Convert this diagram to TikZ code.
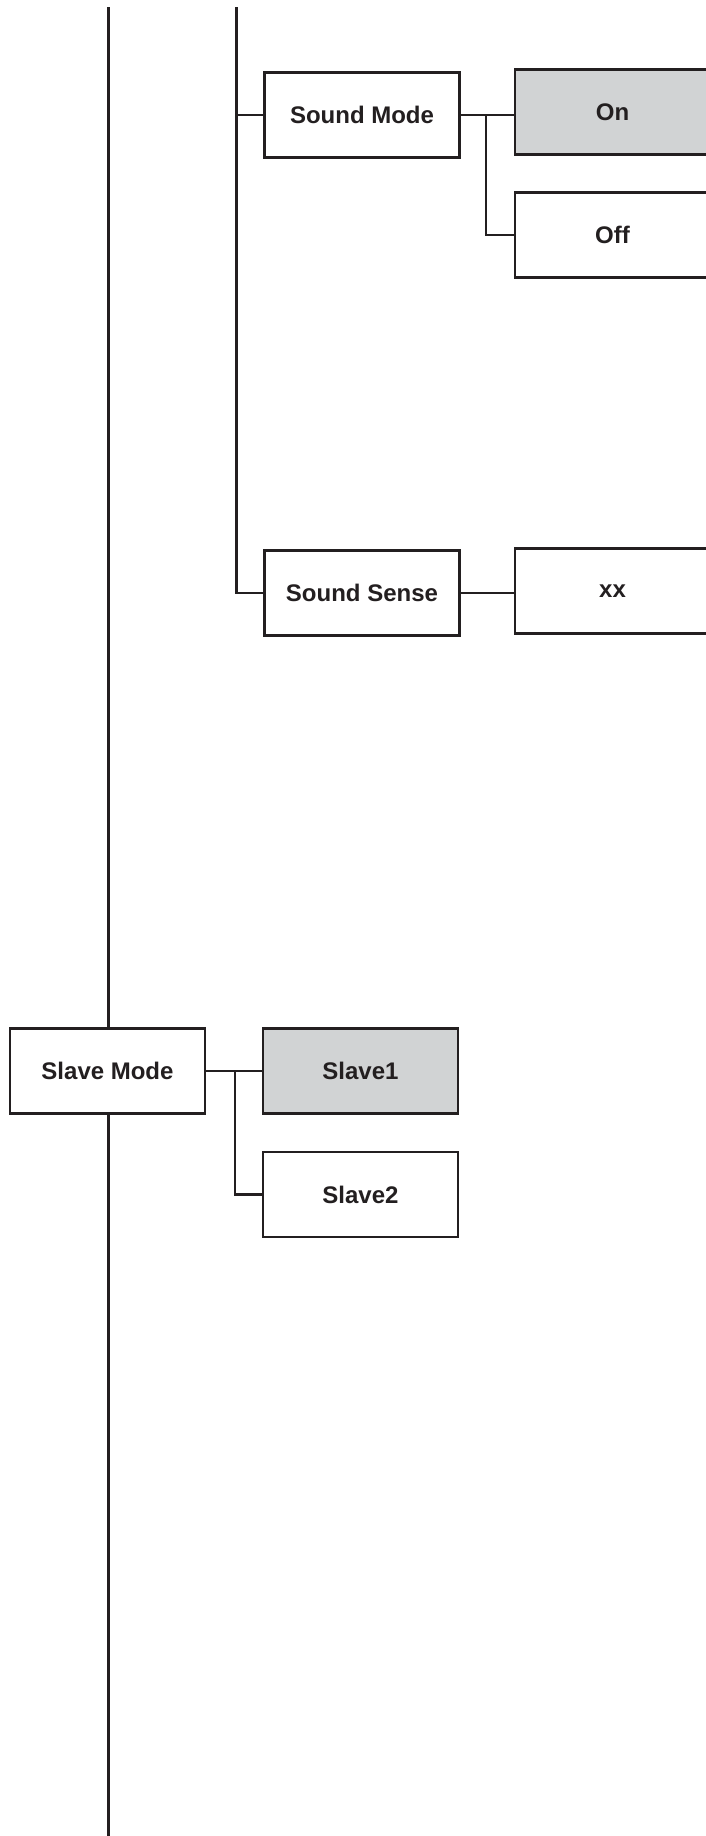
\documentclass[tikz,border=0pt]{standalone}
\usepackage{fontspec}
\setmainfont{Liberation Sans}
\usepackage{tikz}
\usetikzlibrary{calc,positioning}
\usepackage{xcolor}
\definecolor{menuink}{RGB}{35,31,32}
\definecolor{menugray}{RGB}{209,211,212}

\begin{document}
\begin{tikzpicture}[x=0.5pt,y=-0.5pt,
  item/.style={draw=menuink,fill=white,line width=1.2pt,align=center,
              minimum width=97.5pt,minimum height=42.5pt,inner sep=0pt,
              text=menuink,font=\bfseries\fontsize{12}{14}\selectfont},
  chosen/.style={item,fill=menugray},
  wire/.style={draw=menuink,line width=1.25pt}]
  \useasboundingbox (0,0) rectangle (706,1836);
  \begin{scope}
  \clip (0,0) rectangle (706,1836);
  \node[item](sndmode) at (362,115) {Sound Mode};
  \node[chosen](on) at (612.5,112) {On};
  \node[item](off) at (612.5,235) {Off};
  \node[item](sndsense) at (362,593) {Sound Sense};
  \node[item](xx) at (612.5,591) {xx};
  \node[item](slmode) at (107.5,1071) {Slave Mode};
  \node[chosen](slave1) at (360.5,1071) {Slave1};
  \node[item](slave2) at (360.5,1194.5) {Slave2};
  \coordinate (top1) at (108.5,7);
  \coordinate (top2) at (236.5,7);
  \coordinate (bot1) at (108.5,1836);
  \coordinate (br1) at (486,0);
  \coordinate (br2) at (235,0);
  % main trunk
  \draw[wire](top1)--(top1 |- slmode.north);
  \draw[wire](slmode.south -| top1)--(bot1);
  % sound branch
  \draw[wire](top2)--(top2 |- sndsense.west)--(sndsense.west);
  \draw[wire](top2 |- sndmode.west)--(sndmode.west);
  \draw[wire](sndmode.east)--(sndmode.east -| on.west);
  \draw[wire](br1 |- sndmode.east)--(br1 |- off.west)--(off.west);
  \draw[wire](sndsense.east)--(sndsense.east -| xx.west);
  % slave branch
  \draw[wire](slmode.east)--(slmode.east -| slave1.west);
  \draw[wire](br2 |- slmode.east)--(br2 |- slave2.west)--(slave2.west);
  \end{scope}
\end{tikzpicture}
\end{document}
